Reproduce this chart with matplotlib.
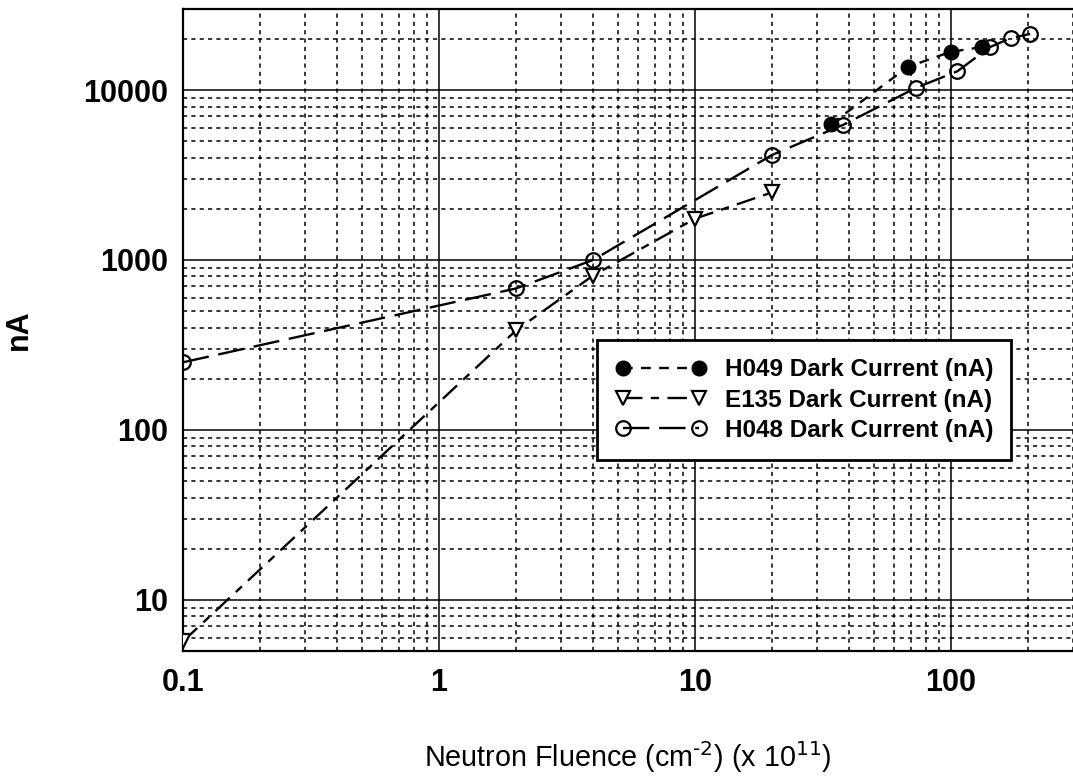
import numpy as np
import matplotlib.pyplot as plt
from matplotlib.ticker import FixedLocator, FixedFormatter, LogLocator, NullFormatter

plt.rcParams['font.family'] = ['Liberation Sans', 'DejaVu Sans']
plt.rcParams['lines.scale_dashes'] = False

# fluence (x 1e11 cm^-2) and dark current (nA) for each diode
h049_x = [34, 68, 100, 132]
h049_y = [6300, 13700, 16800, 17900]

e135_x = [0.1, 2, 4, 10, 20]
e135_y = [5.7, 385, 810, 1750, 2500]

h048_x = [0.1, 2, 4, 20, 38, 73, 106, 142, 171, 204]
h048_y = [250, 680, 1000, 4150, 6250, 10300, 12900, 17900, 20200, 21400]

x_ticks = [0.1, 1, 10, 100]
x_labels = ['0.1', '1', '10', '100']
y_ticks = [10, 100, 1000, 10000]
y_labels = ['10', '100', '1000', '10000']

fig = plt.figure(figsize=(10.73, 7.83), dpi=100)
ax = fig.add_axes([183 / 1073, 132 / 783, 890 / 1073, 642 / 783])
ax.set_xscale('log')
ax.set_yscale('log')
ax.set_xlim(0.1, 300)
ax.set_ylim(5, 30000)

ax.plot(h049_x, h049_y, color='black', lw=1.7, linestyle=(0, (7, 6)),
        marker='o', markersize=10.5, markerfacecolor='black',
        label='H049 Dark Current (nA)', zorder=5)
ax.plot(e135_x, e135_y, color='black', lw=1.7, linestyle=(0, (14, 6, 6, 6)),
        marker='v', markersize=10.5, markerfacecolor='white', markeredgewidth=1.6,
        label='E135 Dark Current (nA)', zorder=4)
ax.plot(h048_x, h048_y, color='black', lw=1.7, linestyle=(0, (19, 7)),
        marker='o', markersize=10.5, markerfacecolor='none', markeredgewidth=1.6,
        label='H048 Dark Current (nA)', zorder=4)

# decade grid solid, sub-decade grid dashed
ax.xaxis.set_major_locator(FixedLocator(x_ticks))
ax.xaxis.set_major_formatter(FixedFormatter(x_labels))
ax.yaxis.set_major_locator(FixedLocator(y_ticks))
ax.yaxis.set_major_formatter(FixedFormatter(y_labels))
ax.xaxis.set_minor_locator(LogLocator(base=10, subs=np.arange(2, 10)))
ax.yaxis.set_minor_locator(LogLocator(base=10, subs=np.arange(2, 10)))
ax.xaxis.set_minor_formatter(NullFormatter())
ax.yaxis.set_minor_formatter(NullFormatter())
ax.grid(which='major', color='black', lw=1.1, linestyle='-')
ax.grid(which='minor', color='black', lw=1.1, linestyle=(0, (3, 3)))
ax.set_axisbelow(True)

ax.tick_params(which='both', length=0)
ax.tick_params(axis='x', pad=12, labelsize=22)
ax.tick_params(axis='y', pad=11, labelsize=22)
for lab in ax.get_xticklabels() + ax.get_yticklabels():
    lab.set_fontweight('bold')

for side in ['left', 'bottom', 'top']:
    ax.spines[side].set_linewidth(1.6)
ax.spines['right'].set_visible(False)

ax.set_xlabel(r'Neutron Fluence (cm$^{\text{-2}}$) (x 10$^{11}$)', fontsize=20.7, labelpad=30)
ax.set_ylabel('nA', fontsize=22, fontweight='bold')
ax.yaxis.set_label_coords(-0.167, 0.5)

leg = ax.legend(loc='upper left', bbox_to_anchor=(597 / 1073, (783 - 340) / 783),
                bbox_transform=fig.transFigure, prop={'size': 17.5, 'weight': 'bold'},
                numpoints=2, handlelength=3.75, handletextpad=0.75, labelspacing=0.3,
                borderpad=0.75, borderaxespad=0, fancybox=False, framealpha=1)
leg.get_frame().set_edgecolor('black')
leg.get_frame().set_linewidth(2)

fig.savefig('out.png', dpi=100)
